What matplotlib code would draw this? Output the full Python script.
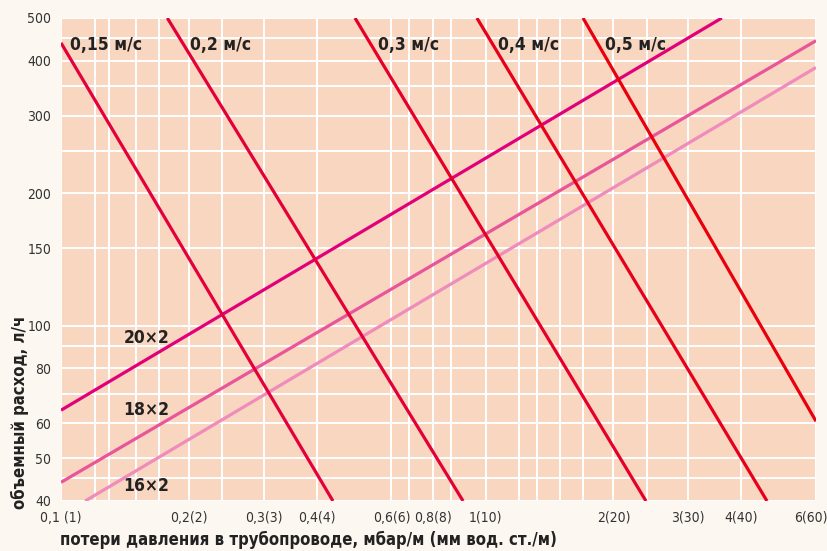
import numpy as np
import matplotlib
matplotlib.use("Agg")
import matplotlib.pyplot as plt
import matplotlib.transforms as mtransforms
from matplotlib import font_manager

# pipe lines (flow vs pressure loss), two end points each
pipe_names = ["20×2", "18×2", "16×2"]
pipe_x = [[0.1, 3.6], [0.1, 6.0], [0.114, 6.0]]
pipe_q = [[64.3, 500], [44.1, 444], [40, 386]]
pipe_colors = ["#e2007a", "#e8559a", "#ef8cbc"]
pipe_label_pos = [(0.159, 94), (0.159, 64.5), (0.159, 43.3)]

# velocity lines
vel_names = ["0,15 м/с", "0,2 м/с", "0,3 м/с", "0,4 м/с", "0,5 м/с"]
vel_x = [[0.1, 0.437], [0.178, 0.885], [0.4925, 2.386], [0.954, 4.6], [1.696, 6.0]]
vel_q = [[439, 40], [500, 40], [500, 40], [500, 40], [500, 60.7]]
vel_colors = ["#e4003c", "#e30038", "#e5002a", "#e6001c", "#e8000e"]
vel_label_x = [0.105, 0.201, 0.558, 1.07, 1.91]
vel_label_q = 434

x_ticks = [0.1, 0.2, 0.3, 0.4, 0.6, 0.75, 1, 2, 3, 4, 6]
x_tick_labels = ["0,1 (1)", "0,2(2)", "0,3(3)", "0,4(4)", "0,6(6)", "0,8(8)",
                 "1(10)", "2(20)", "3(30)", "4(40)", "6(60)"]
x_grid = [0.12, 0.13, 0.15, 0.17, 0.24, 0.66, 0.83, 1.2, 1.32, 1.5, 1.7, 2.4]
y_ticks = [40, 50, 60, 80, 100, 150, 200, 300, 400, 500]
y_grid = [45, 70, 90, 250, 350, 450]


# look for some condensed font, else fall back to Roboto
def pick_font(bold):
    best = None
    for f in font_manager.fontManager.ttflist:
        nm = (f.name + " " + f.fname).lower()
        if "condensed" in nm or "narrow" in nm or f.stretch in ("condensed", "semi-condensed"):
            is_bold = f.weight in ("bold", 700) or "bold" in f.fname.lower()
            if is_bold == bold and "oblique" not in f.fname.lower() and "italic" not in f.fname.lower():
                best = f.fname
                break
    if best:
        return font_manager.FontProperties(fname=best), True
    return font_manager.FontProperties(family="Roboto", weight="bold" if bold else "normal"), False


reg_fp, reg_cond = pick_font(False)
bold_fp, bold_cond = pick_font(True)
reg_size = 10 if reg_cond else 9
bold_size = 12.5 if bold_cond else 11.5
axis_size = 12 if bold_cond else 11

fig = plt.figure(figsize=(8.28, 5.51), dpi=100, facecolor="#fdf7f1")
ax = fig.add_axes([61 / 828, 50 / 551, 755 / 828, 483 / 551])
ax.set_facecolor("#f9d6bf")
ax.set_xscale("log")
ax.set_yscale("log")
ax.set_xlim(0.1, 6)
ax.set_ylim(40, 500)

for v in x_ticks + x_grid:
    ax.axvline(v, color="white", lw=1.4, zorder=1)
for v in y_ticks + y_grid:
    ax.axhline(v, color="white", lw=1.4, zorder=1)

for i in range(len(pipe_names)):
    ax.plot(pipe_x[i], pipe_q[i], color=pipe_colors[i], lw=2.3, zorder=3,
            solid_capstyle="butt")
    lx, ly = pipe_label_pos[i]
    ax.text(lx, ly, pipe_names[i], ha="center", va="center", fontproperties=bold_fp,
            fontsize=bold_size, color="#222222", zorder=5)

for i in range(len(vel_names)):
    ax.plot(vel_x[i], vel_q[i], color=vel_colors[i], lw=2.3, zorder=4,
            solid_capstyle="butt")
    ax.text(vel_label_x[i], vel_label_q, vel_names[i], ha="left", va="center",
            fontproperties=bold_fp, fontsize=bold_size, color="#222222", zorder=5)

ax.set_xticks(x_ticks)
ax.set_xticklabels(x_tick_labels, fontproperties=reg_fp, fontsize=reg_size, color="#333333")
ax.set_xticks([], minor=True)
ax.set_yticks(y_ticks)
ax.set_yticklabels([str(v) for v in y_ticks], fontproperties=reg_fp, fontsize=reg_size,
                   color="#333333")
ax.set_yticks([], minor=True)
ax.tick_params(length=0, pad=7)
for s in ax.spines.values():
    s.set_visible(False)

# last x label sits against the right edge, like the original
last = ax.get_xticklabels()[-1]
last.set_horizontalalignment("right")
last.set_transform(last.get_transform() + mtransforms.ScaledTranslation(12 / 100, 0, fig.dpi_scale_trans))

fig.text(20 / 828, 1 - 412 / 551, "объемный расход, л/ч", rotation=90,
         ha="center", va="center", fontproperties=bold_fp, fontsize=axis_size,
         color="#222222")
fig.text(60 / 828, 1 - 540 / 551, "потери давления в трубопроводе, мбар/м (мм вод. ст./м)",
         ha="left", va="center", fontproperties=bold_fp, fontsize=axis_size,
         color="#222222")

fig.savefig("out.png", dpi=100, facecolor=fig.get_facecolor())
